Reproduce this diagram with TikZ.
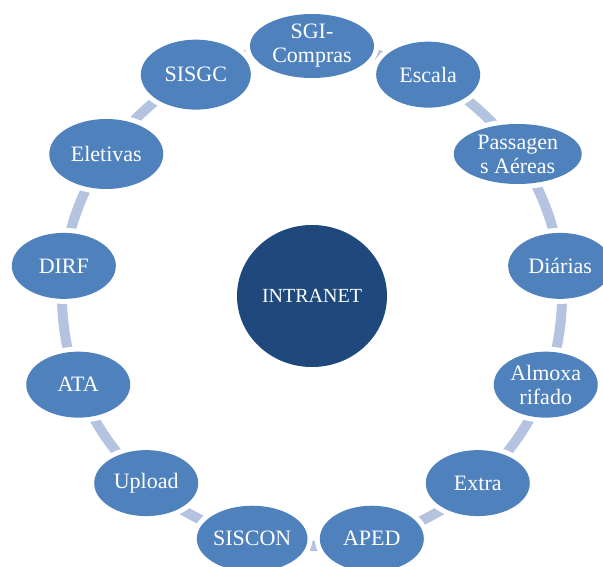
\documentclass[tikz,border=0pt]{standalone}
\usepackage{fontspec}
\setmainfont{Liberation Serif}
\usetikzlibrary{shapes.geometric,backgrounds}
\definecolor{nodeblue}{HTML}{4F81BD}
\definecolor{hubblue}{HTML}{1F497D}
\definecolor{ringblue}{HTML}{B4C4E0}
\begin{document}
\begin{tikzpicture}[x=1pt,y=1pt,
  item/.style={ellipse, fill=nodeblue, text=white, inner sep=0pt, align=center,
    font=\fontsize{22}{24}\selectfont, preaction={draw=white, line width=10pt}},
  hub/.style={ellipse, fill=hubblue, text=white, inner sep=0pt, minimum width=150pt,
    minimum height=142pt, font=\fontsize{20}{24}\selectfont},
  ring/.style={draw=ringblue, line width=10pt}]
\useasboundingbox (0,0) rectangle (603,566);
\node[hub] (c) at (312,270) {INTRANET};
\foreach \i/\t/\w/\h in {
  0/{SGI-\\Compras}/124/64,
  1/{Escala}/104/66,
  2/{Passagen\\s Aéreas}/128/60,
  3/{Diárias}/104/66,
  4/{Almoxa\\rifado}/104/66,
  5/{Extra}/104/66,
  6/{APED}/104/66,
  7/{SISCON}/104/66,
  8/{Upload}/104/66,
  9/{ATA}/104/66,
  10/{DIRF}/104/66,
  11/{Eletivas}/114/70,
  12/{SISGC}/110/70}{
  \pgfmathsetmacro\a{90-\i*360/13}
  \path (c) ++(\a:250) node[item, minimum width=\w pt, minimum height=\h pt] (n\i) {\t};
}
\begin{pgfonlayer}{background}
\foreach \i in {0,...,12}{
  \pgfmathsetmacro\a{90-\i*360/13}
  \pgfmathsetmacro\b{\a-360/13}
  \draw[ring] (n\i.center) arc[start angle=\a, end angle=\b, radius=250];
}
\end{pgfonlayer}
\end{tikzpicture}
\end{document}
